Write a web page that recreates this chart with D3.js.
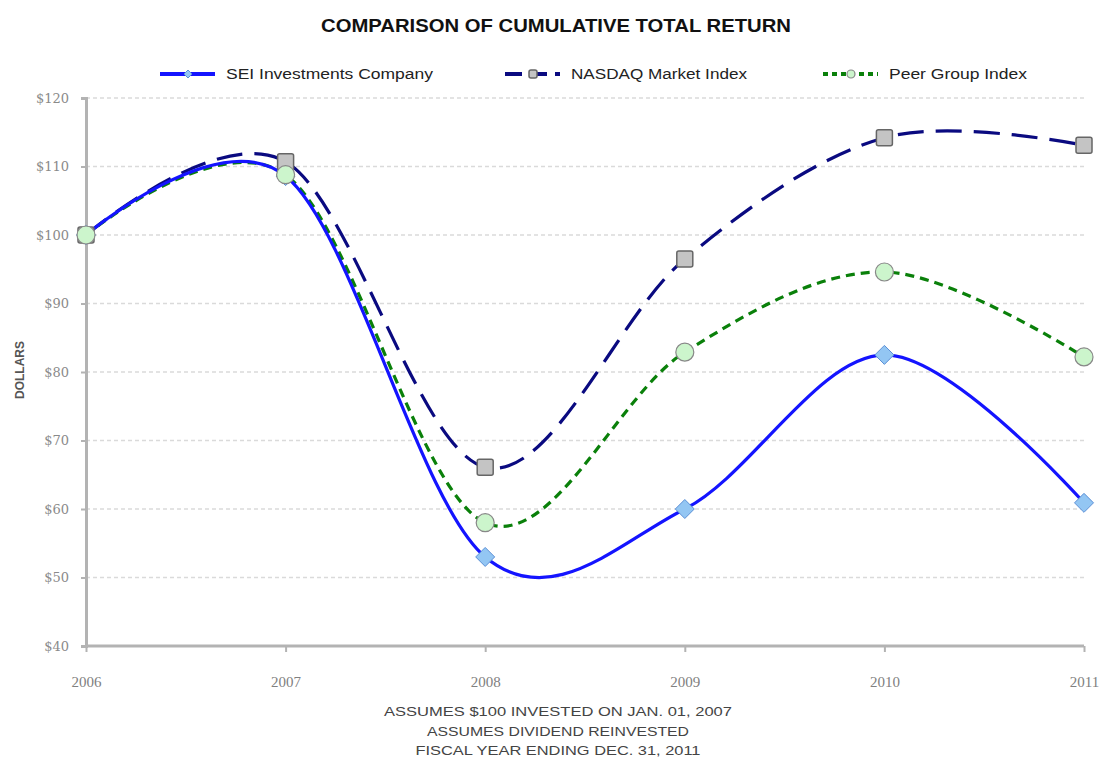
<!DOCTYPE html>
<html><head><meta charset="utf-8">
<script src="https://cdn.jsdelivr.net/npm/d3@7/dist/d3.min.js"></script>
<style>
body{margin:0;background:#fff;}
svg{display:block;}
</style></head>
<body>
<svg id="c" width="1106" height="763"></svg>
<script>
const years = ["2006","2007","2008","2009","2010","2011"];
const seiValues = [100, 108.6, 53.0, 60.0, 82.5, 60.9];
const nasdaqValues = [100, 110.7, 66.1, 96.5, 114.2, 113.1];
const peerValues = [100, 108.8, 58.0, 82.9, 94.6, 82.2];
const yTicks = [40, 50, 60, 70, 80, 90, 100, 110, 120];
const seriesNames = ["SEI Investments Company", "NASDAQ Market Index", "Peer Group Index"];
const footerLines = ["ASSUMES $100 INVESTED ON JAN. 01, 2007", "ASSUMES DIVIDEND REINVESTED", "FISCAL YEAR ENDING DEC. 31, 2011"];

const svg = d3.select("#c");
const narrow = "'Liberation Sans Narrow','Arial Narrow','Liberation Sans',sans-serif";
const x = d3.scalePoint().domain(years).range([86, 1084]);
const y = d3.scaleLinear().domain([40, 120]).range([646, 98]);

// gridlines
svg.append("g").selectAll("line").data(yTicks.filter(d => d > 40)).join("line")
  .attr("x1", 86).attr("x2", 1084).attr("y1", d => y(d)).attr("y2", d => y(d))
  .attr("stroke", "#dadada").attr("stroke-width", 1.5).attr("stroke-dasharray", "4,3");

// axes
const yAxis = svg.append("g").attr("transform", "translate(86,0)")
  .call(d3.axisLeft(y).tickValues(yTicks).tickSize(5).tickPadding(12).tickFormat(d => "$" + d));
const xAxis = svg.append("g").attr("transform", "translate(0,646)")
  .call(d3.axisBottom(x).tickSize(6).tickPadding(24));
[yAxis, xAxis].forEach(a => {
  a.select(".domain").attr("stroke", "#b3b3b3").attr("stroke-width", 3);
  a.selectAll(".tick line").attr("stroke", "#b3b3b3").attr("stroke-width", 2);
  a.selectAll("text").style("fill", "#8a8a8a").style("font-family", "'DejaVu Serif',serif").style("font-size", "13px");
});
xAxis.select(".domain").attr("d", "M86,0H1084");
xAxis.selectAll("text").style("font-family", "'Liberation Serif',serif").style("font-size", "15px").style("fill", "#808080");

// y title
svg.append("text").attr("transform", "translate(24,370) rotate(-90)")
  .attr("text-anchor", "middle").attr("font-family", narrow).attr("font-weight", "bold")
  .attr("font-size", 12).attr("fill", "#555").text("DOLLARS");

// title
svg.append("text").attr("x", 556).attr("y", 32).attr("text-anchor", "middle")
  .attr("font-family", narrow).attr("font-weight", "bold").attr("font-size", 18)
  .attr("fill", "#111").attr("textLength", 470).attr("lengthAdjust", "spacingAndGlyphs")
  .text("COMPARISON OF CUMULATIVE TOTAL RETURN");

const series = [
  {name: seriesNames[0], values: seiValues, color: "#1414ff", dash: null, marker: "diamond", fill: "#93c6f3", mstroke: "#5b8fd6"},
  {name: seriesNames[1], values: nasdaqValues, color: "#0a0a80", dash: "26,12", marker: "square", fill: "#c4c4c4", mstroke: "#666"},
  {name: seriesNames[2], values: peerValues, color: "#0a800a", dash: "9,6", marker: "circle", fill: "#ccf5cc", mstroke: "#888"}
];

const line = d3.line().x((d, i) => x(years[i])).y(d => y(d)).curve(d3.curveCardinal.tension(0));

function drawMarker(g, s, cx, cy, size) {
  const h = size / 2;
  if (s.marker === "diamond") {
    g.append("path").attr("d", `M${cx},${cy - h}L${cx + h},${cy}L${cx},${cy + h}L${cx - h},${cy}Z`)
      .attr("fill", s.fill).attr("stroke", s.mstroke).attr("stroke-width", 1);
  } else if (s.marker === "square") {
    g.append("rect").attr("x", cx - h).attr("y", cy - h).attr("width", size).attr("height", size)
      .attr("rx", 2).attr("fill", s.fill).attr("stroke", s.mstroke).attr("stroke-width", 1.5);
  } else {
    g.append("circle").attr("cx", cx).attr("cy", cy).attr("r", h)
      .attr("fill", s.fill).attr("stroke", s.mstroke).attr("stroke-width", 1.2);
  }
}

const order = [1, 2, 0];
order.forEach(k => {
  const s = series[k];
  svg.append("path").datum(s.values).attr("d", line).attr("fill", "none")
    .attr("stroke", s.color).attr("stroke-width", 3.2)
    .attr("stroke-dasharray", s.dash).attr("stroke-linecap", "butt");
});
const msize = [19, 16, 18];
[0, 1, 2].forEach(k => {
  const s = series[k];
  const g = svg.append("g");
  s.values.forEach((v, i) => drawMarker(g, s, x(years[i]), y(v), msize[k]));
});

// legend
const legendX = [160, 505, 823];
const legendW = [207, 176, 138];
series.forEach((s, k) => {
  const g = svg.append("g");
  const lx = legendX[k], ly = 74;
  g.append("line").attr("x1", lx).attr("x2", lx + 55).attr("y1", ly).attr("y2", ly)
    .attr("stroke", s.color).attr("stroke-width", 4).attr("stroke-dasharray", k === 1 ? "17,8" : (k === 2 ? "5,4" : null));
  drawMarker(g, s, lx + 28, ly, 8);
  g.append("text").attr("x", lx + 66).attr("y", ly + 5).attr("font-family", narrow).attr("font-size", 14)
    .attr("fill", "#222").attr("textLength", legendW[k]).attr("lengthAdjust", "spacingAndGlyphs").text(s.name);
});

// footer
const fw = [348, 262, 285];
footerLines.forEach((t, i) => {
  svg.append("text").attr("x", 558).attr("y", 716 + i * 19.5).attr("text-anchor", "middle")
    .attr("font-family", narrow).attr("font-size", 13).attr("fill", "#444")
    .attr("textLength", fw[i]).attr("lengthAdjust", "spacingAndGlyphs").text(t);
});
</script>
</body></html>
